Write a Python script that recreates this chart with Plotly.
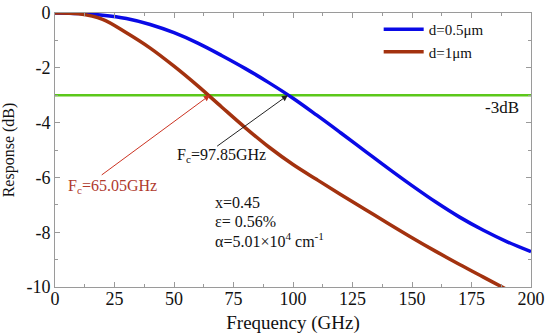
import plotly.graph_objects as go

freq = [0, 10, 20, 30, 40, 50, 60, 70, 80, 90, 100, 110, 120, 130, 140, 150, 160, 170, 180, 190, 200]
resp_05um = [0, -0.02, -0.08, -0.20, -0.42, -0.72, -1.10, -1.55, -2.03, -2.55, -3.11, -3.73, -4.37, -5.02, -5.67, -6.30, -6.90, -7.45, -7.93, -8.35, -8.71]
resp_1um = [0, -0.03, -0.23, -0.72, -1.28, -1.94, -2.66, -3.43, -4.19, -4.90, -5.53, -6.08, -6.62, -7.15, -7.68, -8.20, -8.70, -9.18, -9.64, -10.10, -10.55]
series_names = ["d=0.5\u03bcm", "d=1\u03bcm"]
level_3db = -3
fc_05 = 97.85
fc_1 = 65.05
x_ticks = [0, 25, 50, 75, 100, 125, 150, 175, 200]
y_ticks = [0, -2, -4, -6, -8, -10]
y_ticktext = ["0", "-2", "-4", "-6", "-8", "-10"]

FONT = "'Liberation Serif', 'Times New Roman', Times, serif"

fig = go.Figure()
fig.add_trace(go.Scatter(x=[0, 200], y=[level_3db, level_3db], mode="lines",
                         line=dict(color="#5cc81a", width=2.5), showlegend=False, hoverinfo="skip"))
fig.add_trace(go.Scatter(x=freq, y=resp_05um, mode="lines", name=series_names[0],
                         line=dict(color="#0a0ae6", width=3.5, shape="spline", smoothing=1.0)))
fig.add_trace(go.Scatter(x=freq, y=resp_1um, mode="lines", name=series_names[1],
                         line=dict(color="#a3320f", width=3.5, shape="spline", smoothing=1.0)))

axis_common = dict(showline=True, linecolor="#9a9a9a", linewidth=1, mirror="ticks",
                   ticks="inside", ticklen=5, tickcolor="#9a9a9a", showgrid=False, zeroline=False,
                   automargin=False)

fig.update_xaxes(range=[0, 200], tickvals=x_ticks, ticklabelstandoff=-5,
                 tickfont=dict(family=FONT, size=18, color="#111"),
                 minor=dict(ticks="inside", ticklen=3, tickcolor="#9a9a9a", dtick=12.5, tick0=0),
                 title=dict(text="Frequency (GHz)", font=dict(family=FONT, size=19, color="#111")),
                 **axis_common)
fig.update_yaxes(range=[-10, 0], tickvals=y_ticks, ticktext=y_ticktext,
                 tickfont=dict(family=FONT, size=18, color="#111"),
                 minor=dict(ticks="inside", ticklen=3, tickcolor="#9a9a9a", dtick=1, tick0=0),
                 title=dict(text="Response (dB)", font=dict(family=FONT, size=16, color="#111")),
                 **axis_common)

ann = []
ann.append(dict(x=fc_05, y=level_3db, ax=67.5, ay=-4.9, xref="x", yref="y", axref="x", ayref="y",
                showarrow=True, arrowhead=2, arrowsize=1.2, arrowwidth=1, arrowcolor="#222", text=""))
ann.append(dict(x=fc_1, y=level_3db, ax=19, ay=-5.95, xref="x", yref="y", axref="x", ayref="y",
                showarrow=True, arrowhead=2, arrowsize=1.2, arrowwidth=1, arrowcolor="#cc3322", text=""))
ann.append(dict(x=50.5, y=-5.2, xref="x", yref="y", xanchor="left", yanchor="middle", showarrow=False,
                text="F<sub>c</sub>=97.85GHz", font=dict(family=FONT, size=16, color="#111")))
ann.append(dict(x=4.8, y=-6.35, xref="x", yref="y", xanchor="left", yanchor="middle", showarrow=False,
                text="F<sub>c</sub>=65.05GHz", font=dict(family=FONT, size=16, color="#b03a2e")))
ann.append(dict(x=196, y=-3.45, xref="x", yref="y", xanchor="right", yanchor="middle", showarrow=False,
                text="-3dB", font=dict(family=FONT, size=17, color="#111")))
ann.append(dict(x=66.5, y=-6.9, xref="x", yref="y", xanchor="left", yanchor="middle", showarrow=False,
                text="x=0.45", font=dict(family=FONT, size=16, color="#111")))
ann.append(dict(x=66.5, y=-7.6, xref="x", yref="y", xanchor="left", yanchor="middle", showarrow=False,
                text="\u03b5= 0.56%", font=dict(family=FONT, size=16, color="#111")))
ann.append(dict(x=66.5, y=-8.3, xref="x", yref="y", xanchor="left", yanchor="middle", showarrow=False,
                text="\u03b1=5.01\u00d710<sup>4</sup> cm<sup>-1</sup>", font=dict(family=FONT, size=16, color="#111")))

fig.update_layout(
    width=550, height=334,
    margin=dict(l=55, r=19, t=13, b=47),
    plot_bgcolor="white", paper_bgcolor="white",
    font=dict(family=FONT, size=16, color="#111"),
    legend=dict(x=0.68, y=1.0, xanchor="left", yanchor="top", bgcolor="rgba(0,0,0,0)",
                font=dict(family=FONT, size=15, color="#111"), tracegroupgap=0,
                itemwidth=40),
    annotations=ann,
)

fig.write_html("out.html", config={"displayModeBar": False},
               post_script="document.body.style.margin='0px';document.body.style.padding='0px';")
